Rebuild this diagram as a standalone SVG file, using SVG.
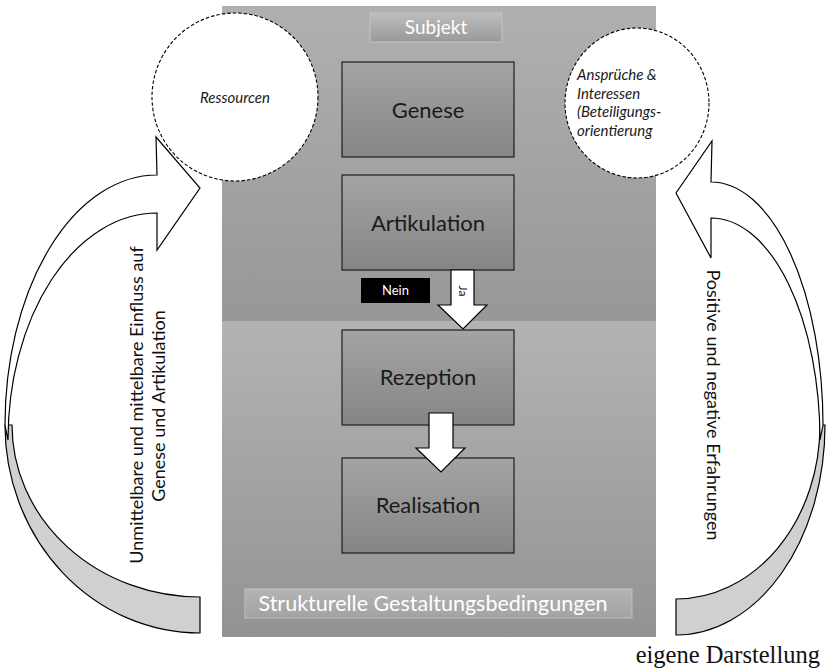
<svg xmlns="http://www.w3.org/2000/svg" width="827" height="670" viewBox="0 0 827 670">
<defs>
<linearGradient id="gUp" x1="0" y1="0" x2="0" y2="1"><stop offset="0" stop-color="#b0b0b0"/><stop offset="1" stop-color="#979797"/></linearGradient>
<linearGradient id="gLow" x1="0" y1="0" x2="0" y2="1"><stop offset="0" stop-color="#b3b3b3"/><stop offset="1" stop-color="#939393"/></linearGradient>
<linearGradient id="gBox" x1="0" y1="0" x2="0" y2="1"><stop offset="0" stop-color="#a4a4a4"/><stop offset="1" stop-color="#858585"/></linearGradient>
<linearGradient id="gLab" x1="0" y1="0" x2="0" y2="1"><stop offset="0" stop-color="#bdbdbd"/><stop offset="1" stop-color="#999999"/></linearGradient>
<linearGradient id="gLab2" x1="0" y1="0" x2="0" y2="1"><stop offset="0" stop-color="#b4b4b4"/><stop offset="1" stop-color="#a2a2a2"/></linearGradient>
</defs>
<style>
.box{fill:url(#gBox);stroke:#1e1e1e;stroke-width:1.2}
.lbl{font-family:Lato,"Liberation Sans",sans-serif;font-size:22px;fill:#1a1a1a;text-anchor:middle}
.wl{font-family:Lato,"Liberation Sans",sans-serif;fill:#ffffff;text-anchor:middle}
.circ{fill:#ffffff;stroke:#000;stroke-width:1.1;stroke-dasharray:3.5 2}
.it{font-family:Lato,"Liberation Sans",sans-serif;font-style:italic;font-size:15px;fill:#1a1a1a}
.side{font-family:Lato,"Liberation Sans",sans-serif;font-size:18px;fill:#111;text-anchor:middle}
.arr{fill:#ffffff;stroke:#000;stroke-width:1.2;stroke-linejoin:miter}
.band{fill:#d0d0d0;stroke:#000;stroke-width:1.2}
</style>
<g id="panel">
<rect x="222" y="6" width="434" height="315" fill="url(#gUp)"/>
<rect x="222" y="321" width="434" height="316" fill="url(#gLow)"/>
</g>
<g id="subjekt">
<rect x="370" y="13" width="132" height="29" fill="url(#gLab)" stroke="#c4c4c4" stroke-width="1"/>
<text class="wl" x="436" y="34" font-size="19">Subjekt</text>
</g>
<g id="strukturelle">
<rect x="245" y="589" width="387" height="29" fill="url(#gLab2)" stroke="#c0c0c0" stroke-width="1"/>
<text class="wl" x="433" y="611" font-size="21.5">Strukturelle Gestaltungsbedingungen</text>
</g>
<g id="genese"><rect class="box" x="342" y="62" width="172" height="95"/><text class="lbl" x="428" y="118">Genese</text></g>
<g id="artikulation"><rect class="box" x="342" y="175" width="172" height="95"/><text class="lbl" x="428" y="231">Artikulation</text></g>
<g id="rezeption"><rect class="box" x="342" y="330" width="172" height="95"/><text class="lbl" x="428" y="385">Rezeption</text></g>
<g id="realisation"><rect class="box" x="342" y="458" width="172" height="95"/><text class="lbl" x="428" y="513">Realisation</text></g>
<g id="nein">
<rect x="361" y="278" width="69" height="25" fill="#000"/>
<text class="wl" x="395.5" y="295" font-size="13">Nein</text>
</g>
<g id="connectors">
<path class="arr" d="M451,270 L474,270 L474,305 L487,305 L463,329 L438,305 L451,305 Z"/>
<text class="wl" font-size="12" style="fill:#111" transform="translate(459,291) rotate(90)">Ja</text>
<path class="arr" d="M429,413 L453,413 L453,448 L465,448 L441,472 L416,448 L429,448 Z"/>
<path class="band" d="M5,425 A195,208 0 0 0 200,633 L200,597 A188,172 0 0 1 12,425 Z"/>
<path class="arr" d="M157,175 A152,250 0 0 0 5,425 L8,440 A149,227 0 0 1 157,213 L157,250 L200,188 L156,137 Z"/>
<path class="band" d="M825,425 A149,210 0 0 1 676,635 L676,599 A144,174 0 0 0 820,425 Z"/>
<path class="arr" d="M711,182 A112,243 0 0 1 823,425 L820,440 A109,222 0 0 0 711,218 L711,258 L676,193 L712,141 Z"/>
</g>
<g id="ressourcen">
<ellipse class="circ" cx="235" cy="97" rx="83" ry="84"/>
<text class="it" x="235" y="103" text-anchor="middle">Ressourcen</text>
</g>
<g id="ansprueche">
<ellipse class="circ" cx="637" cy="103" rx="72" ry="75"/>
<text class="it" x="577" y="80">Ansprüche &amp;</text>
<text class="it" x="577" y="98.5">Interessen</text>
<text class="it" x="577" y="117">(Beteiligungs-</text>
<text class="it" x="577" y="135.5">orientierung</text>
</g>
<g id="labels">
<text class="side" transform="translate(143,405) rotate(-90)">Unmittelbare und mittelbare Einfluss auf</text>
<text class="side" transform="translate(165,406) rotate(-90)">Genese und Artikulation</text>
<text class="side" transform="translate(707,405) rotate(90)">Positive und negative Erfahrungen</text>
<text x="820" y="663" font-family="Liberation Serif,serif" font-size="24.5" text-anchor="end" fill="#111">eigene Darstellung</text>
</g>
</svg>
